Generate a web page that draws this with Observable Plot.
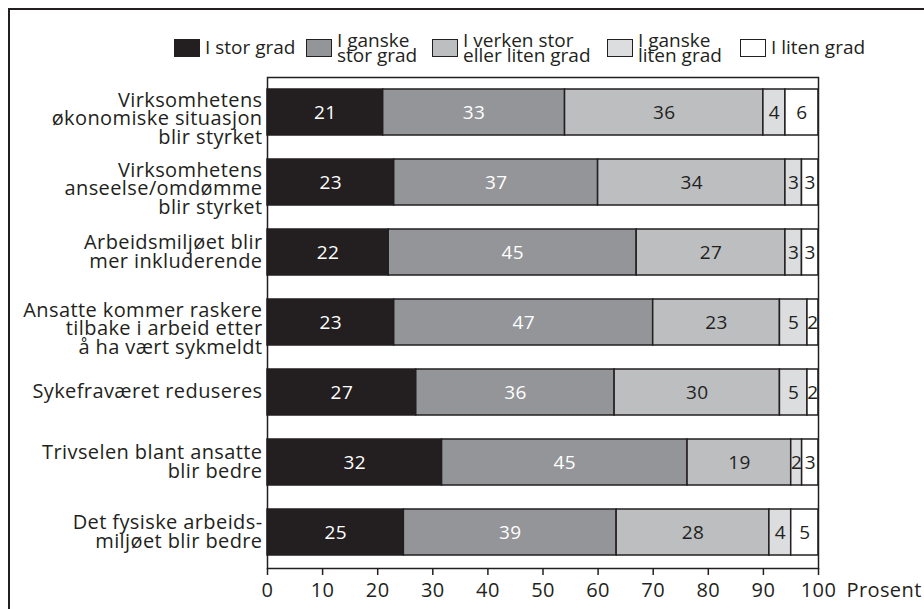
<!DOCTYPE html>
<html>
<head>
<meta charset="utf-8">
<script src="https://cdn.jsdelivr.net/npm/d3@7"></script>
<script src="https://cdn.jsdelivr.net/npm/@observablehq/plot@0.6"></script>
<style>
  html, body { margin: 0; padding: 0; background: #fff; }
  body { width: 924px; height: 609px; position: relative; overflow: hidden;
         font-family: "Open Sans", sans-serif; color: #231f20; }
  #frame { position: absolute; left: 8px; top: 8px; width: 1000px; height: 700px;
           border-left: 2px solid #231f20; border-top: 2px solid #231f20; }
  #legend { position: absolute; left: 0; top: 0; width: 924px; height: 70px;
            font-size: 19px; line-height: 15px; }
  .item { position: absolute; top: 38px; height: 19px; display: flex; align-items: center; }
  .item:nth-child(1) { left: 174px; }
  .item:nth-child(2) { left: 306px; }
  .item:nth-child(3) { left: 432px; }
  .item:nth-child(4) { left: 607px; }
  .item:nth-child(5) { left: 740px; }
  .sw { width: 24px; height: 16px; border: 1.5px solid #231f20; margin-right: 5px; flex: none; }
  .lab { white-space: pre; }
  #chart { position: absolute; left: 0; top: 60px; }
</style>
</head>
<body>
<div id="frame"></div>
<div id="legend"></div>
<div id="chart"></div>
<script>
// Statements (top to bottom)
const categories = [
  "Virksomhetens\nøkonomiske situasjon\nblir styrket",
  "Virksomhetens\nanseelse/omdømme\nblir styrket",
  "Arbeidsmiljøet blir\nmer inkluderende",
  "Ansatte kommer raskere\ntilbake i arbeid etter\nå ha vært sykmeldt",
  "Sykefraværet reduseres",
  "Trivselen blant ansatte\nblir bedre",
  "Det fysiske arbeids-\nmiljøet blir bedre"
];

// Response categories
const seriesNames = [
  "I stor grad",
  "I ganske\nstor grad",
  "I verken stor\neller liten grad",
  "I ganske\nliten grad",
  "I liten grad"
];

// Percent per statement, one array per response category
const iStorGrad       = [21, 23, 22, 23, 27, 32, 25];
const iGanskeStorGrad = [33, 37, 45, 47, 36, 45, 39];
const iVerken         = [36, 34, 27, 23, 30, 19, 28];
const iGanskeLiten    = [ 4,  3,  3,  5,  5,  2,  4];
const iLitenGrad      = [ 6,  3,  3,  2,  2,  3,  5];

const xTicks = [0, 10, 20, 30, 40, 50, 60, 70, 80, 90, 100];

const seriesFill = ["#231f20", "#939598", "#bcbec0", "#dcddde", "#ffffff"];
const labelFill  = ["#ffffff", "#ffffff", "#231f20", "#231f20", "#231f20"];
const ink = "#231f20";

const seriesValues = [iStorGrad, iGanskeStorGrad, iVerken, iGanskeLiten, iLitenGrad];
const rows = [];
categories.forEach((cat, i) => {
  seriesValues.forEach((vals, s) => {
    rows.push({category: cat, series: s, value: vals[i]});
  });
});

// Legend
const legend = document.getElementById("legend");
seriesNames.forEach((name, s) => {
  const item = document.createElement("div");
  item.className = "item";
  const sw = document.createElement("div");
  sw.className = "sw";
  sw.style.background = seriesFill[s];
  const lab = document.createElement("div");
  lab.className = "lab";
  lab.textContent = name;
  item.append(sw, lab);
  legend.append(item);
});

// Three-line labels sit a little lower than their bars
const threeLine = categories.filter(c => c.split("\n").length === 3);
const otherLabels = categories.filter(c => c.split("\n").length !== 3);

const stackOpts = {x: "value", y: "category", z: "series", order: "z", offset: "normalize"};
const labelStyle = {tickSize: 0, tickPadding: 5, fontSize: 20, lineHeight: 0.92, fill: ink, label: null};

const chart = Plot.plot({
  width: 924,
  height: 549,
  marginTop: 17,
  marginBottom: 41,
  marginLeft: 267,
  marginRight: 106,
  style: {fontFamily: "Open Sans, sans-serif", fontSize: "20px", color: ink, background: "transparent", letterSpacing: "0.4px"},
  x: {domain: [0, 100], percent: true, ticks: xTicks},
  y: {domain: categories, paddingInner: 0.34, paddingOuter: 0.165},
  color: {type: "identity"},
  marks: [
    Plot.barX(rows, Plot.stackX({...stackOpts, fill: d => seriesFill[d.series], stroke: ink, strokeWidth: 1.5})),
    Plot.text(rows, Plot.stackX({...stackOpts, text: "value", fill: d => labelFill[d.series], fontSize: 19})),
    Plot.frame({stroke: ink, strokeWidth: 1.5}),
    Plot.axisX({ticks: xTicks, tickSize: 7, tickPadding: 7, fontSize: 20, strokeWidth: 1.5, stroke: ink, fill: ink, label: null}),
    Plot.axisY(threeLine, {...labelStyle, dy: 7}),
    Plot.axisY(otherLabels, {...labelStyle}),
    Plot.text(["Prosent"], {frameAnchor: "bottom-right", textAnchor: "start", lineAnchor: "top", dx: 28, dy: 14, fontSize: 20, fill: ink})
  ]
});
document.getElementById("chart").append(chart);
</script>
</body>
</html>
